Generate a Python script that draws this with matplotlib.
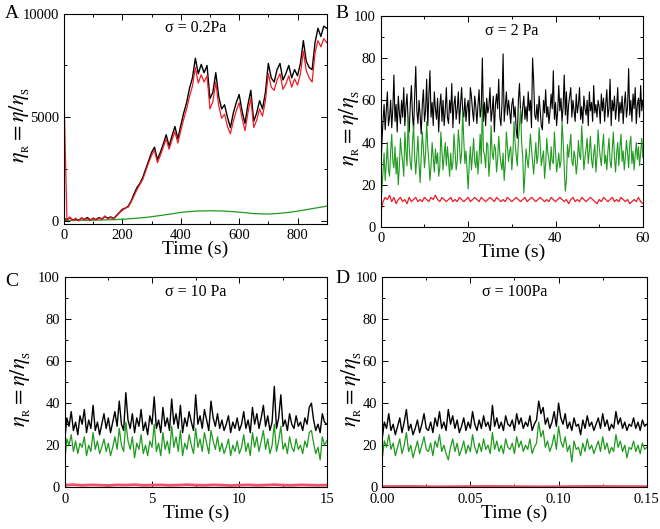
import numpy as np
import matplotlib
matplotlib.use("Agg")
import matplotlib.pyplot as plt
from matplotlib.ticker import MultipleLocator, FormatStrFormatter

plt.rcParams['font.family'] = ['Liberation Serif', 'DejaVu Serif']
plt.rcParams['mathtext.fontset'] = 'stix'

# ---- panel A: sigma = 0.2 Pa, sampled every 10 s (green every 25 s)
black_a = [100, 50, 150, 30, 80, 20, 120, 60, 150, 40, 100, 60, 150, 80, 200, 120, 180, 100,
           250, 400, 550, 600, 700, 950, 1300, 1600, 1800, 2100, 2500, 2900, 3300, 3550, 2950,
           3300, 3700, 4150, 3600, 4100, 4550, 3950, 4600, 5200, 5700, 6400, 6900, 7850, 7100,
           7550, 7150, 7500, 5900, 6200, 7150, 6000, 5400, 5600, 5000, 4500, 5200, 5700, 6100,
           5300, 4700, 5600, 6300, 4800, 5200, 5800, 5400, 6200, 7600, 6900, 6700, 7300, 7600,
           6800, 7100, 7500, 6900, 7300, 7000, 7600, 8700, 7700, 7400, 7300, 8600, 9300, 8900,
           9400, 9300]
red_a = [6000, 30, 180, 0, 120, -20, 150, 40, 100, 10, 140, 30, 120, 60, 230, 90, 150, 80,
         220, 380, 500, 620, 650, 900, 1200, 1500, 1750, 2000, 2400, 2800, 3150, 3400, 2800,
         3150, 3550, 3950, 3450, 3900, 4300, 3750, 4350, 4900, 5400, 6000, 6500, 7400, 6650,
         7050, 6700, 7000, 5400, 5750, 6700, 5550, 4950, 5150, 4550, 4200, 4800, 5300, 5700,
         4950, 4350, 5200, 5900, 4500, 4850, 5400, 5050, 5800, 7100, 6450, 6300, 6800, 7100,
         6350, 6600, 7000, 6450, 6850, 6550, 7100, 8200, 7250, 6900, 6700, 8100, 8700, 8400,
         8800, 8600]
green_a = [10, 15, 20, 20, 25, 30, 40, 50, 70, 90, 120, 150, 190, 240, 290, 340, 400, 430,
           460, 470, 480, 470, 460, 440, 410, 380, 340, 330, 320, 340, 370, 410, 460, 520,
           580, 640, 700]

# ---- panel B: sigma = 2 Pa, every 0.25 s (red every 0.5 s)
black_b = [25, 40, 50, 58, 46, 55, 64, 48, 52, 60, 47, 56, 72, 50, 58, 45, 62, 54, 49, 60,
           52, 66, 48, 57, 63, 50, 45, 58, 67, 53, 46, 62, 76, 55, 49, 60, 53, 44, 58, 65,
           50, 55, 70, 48, 62, 74, 52, 59, 48, 64, 56, 51, 61, 45, 57, 63, 50, 60, 48, 55,
           66, 52, 49, 60, 54, 68, 47, 58, 62, 51, 56, 64, 49, 58, 66, 55, 52, 61, 50, 57,
           60, 48, 66, 62, 55, 50, 62, 57, 49, 58, 65, 52, 56, 80, 50, 59, 48, 61, 54, 57,
           66, 50, 55, 62, 45, 58, 63, 56, 70, 52, 48, 59, 82, 50, 57, 64, 53, 60, 55, 49,
           58, 61, 52, 57, 46, 42, 60, 68, 55, 49, 57, 62, 51, 57, 50, 64, 55, 60, 47, 80,
           69, 53, 51, 58, 50, 62, 55, 48, 46, 60, 54, 65, 52, 57, 49, 55, 63, 56, 74, 51,
           59, 48, 55, 67, 55, 61, 50, 57, 72, 53, 64, 49, 58, 62, 66, 52, 60, 55, 50, 63,
           54, 58, 66, 51, 57, 49, 62, 56, 53, 60, 48, 64, 55, 59, 50, 67, 54, 58, 52, 60,
           57, 49, 63, 55, 61, 50, 58, 65, 52, 56, 70, 48, 60, 55, 62, 51, 57, 66, 50, 59,
           54, 62, 49, 58, 64, 52, 57, 75, 53, 60, 50, 63, 56, 66, 49, 58, 61, 52, 67, 55, 60]
green_b = [10, 18, 26, 35, 22, 30, 40, 27, 24, 36, 44, 31, 28, 38, 25, 33, 20, 29, 42, 35,
           31, 24, 45, 36, 29, 52, 38, 30, 27, 40, 48, 33, 25, 34, 43, 30, 21, 33, 45, 37,
           28, 35, 50, 38, 31, 22, 29, 40, 33, 26, 37, 30, 35, 24, 28, 45, 36, 27, 34, 40,
           29, 38, 32, 24, 35, 27, 30, 44, 36, 27, 31, 46, 39, 30, 35, 55, 41, 30, 36, 27,
           18, 30, 38, 27, 34, 42, 31, 28, 36, 25, 33, 44, 30, 58, 36, 34, 28, 40, 39, 24,
           31, 48, 35, 32, 39, 37, 26, 32, 43, 35, 30, 27, 35, 22, 30, 45, 38, 31, 36, 38,
           27, 35, 50, 40, 34, 29, 41, 48, 56, 40, 33, 16, 25, 37, 32, 28, 35, 44, 37, 31,
           25, 33, 40, 30, 34, 47, 39, 29, 33, 36, 23, 30, 42, 35, 32, 27, 38, 31, 30, 45,
           36, 26, 30, 35, 28, 31, 50, 41, 28, 17, 22, 39, 33, 38, 44, 31, 29, 36, 33, 25,
           30, 41, 34, 32, 48, 38, 27, 33, 37, 42, 30, 36, 43, 32, 28, 35, 39, 26, 33, 46,
           38, 33, 29, 38, 44, 30, 34, 27, 36, 42, 31, 28, 37, 45, 33, 26, 35, 40, 29, 38,
           44, 31, 36, 27, 33, 41, 35, 28, 39, 43, 30, 36, 27, 34, 40, 32, 38, 29, 35, 42, 33]
red_b = [7, 12, 14, 13, 15, 12, 14, 11, 13, 14, 12, 13, 11, 14, 12, 13, 14, 12, 13, 12,
         14, 13, 12, 14, 13, 15, 13, 12, 14, 13, 12, 13, 14, 12, 13, 12, 14, 13, 12, 13,
         14, 12, 13, 14, 13, 12, 14, 13, 12, 13, 14, 13, 12, 14, 13, 12, 13, 12, 14, 13,
         12, 13, 14, 13, 12, 13, 14, 12, 13, 14, 13, 12, 13, 14, 13, 12, 13, 12, 14, 13,
         12, 13, 14, 13, 12, 13, 11, 13, 14, 12, 13, 12, 14, 13, 12, 13, 14, 13, 12, 11,
         13, 12, 14, 13, 12, 13, 14, 12, 13, 12, 14, 13, 12, 13, 11, 12, 13, 12, 14, 12, 11]

# ---- panel C: sigma = 10 Pa, every 0.125 s
black_c = [22, 33, 29, 36, 27, 31, 25, 34, 30, 37, 26, 32, 28, 39, 27, 31, 25, 30, 35, 28,
           33, 26, 31, 36, 29, 41, 30, 27, 45, 32, 28, 35, 26, 33, 29, 37, 27, 31, 25, 34,
           30, 43, 28, 32, 26, 38, 29, 33, 27, 42, 30, 35, 28, 39, 26, 33, 29, 36, 31, 27,
           44, 30, 34, 28, 37, 32, 27, 41, 33, 29, 35, 28, 32, 27, 30, 34, 26, 31, 28, 33,
           27, 30, 36, 28, 32, 26, 38, 30, 35, 28, 33, 39, 29, 34, 27, 31, 48, 28, 33, 44,
           29, 32, 27, 35, 30, 28, 34, 29, 31, 27, 33, 30, 38, 40, 32, 27, 30, 26, 35, 31, 30]
green_c = [12, 23, 20, 25, 17, 22, 16, 21, 19, 24, 15, 20, 17, 26, 18, 22, 16, 19, 23, 17,
           21, 15, 19, 24, 18, 28, 20, 17, 31, 22, 18, 24, 14, 21, 18, 25, 16, 20, 15, 22,
           19, 30, 17, 21, 15, 26, 18, 22, 16, 29, 19, 24, 17, 27, 15, 21, 18, 25, 20, 16,
           28, 19, 23, 17, 26, 21, 16, 27, 22, 18, 24, 17, 21, 16, 19, 23, 15, 20, 17, 22,
           16, 19, 25, 17, 21, 15, 26, 19, 24, 17, 22, 27, 18, 23, 16, 20, 30, 17, 22, 29,
           18, 21, 16, 24, 19, 17, 23, 18, 20, 16, 22, 19, 26, 27, 21, 16, 19, 13, 24, 20, 22]
red_c = [1.0, 1.2, 0.9, 1.1, 1.0, 0.8, 1.1, 1.0, 1.2, 0.9, 1.0, 1.1, 0.9, 1.0, 1.2, 1.0,
         0.9, 1.1, 1.0, 0.8, 1.0, 1.1, 0.9, 1.0, 1.2, 1.0, 0.9, 1.1, 1.0, 0.9, 1.0]

# ---- panel D: sigma = 100 Pa, every 0.00125 s
black_d = [23, 31, 28, 35, 27, 30, 25, 29, 33, 26, 31, 37, 27, 30, 25, 28, 32, 26, 30, 35,
           28, 27, 31, 26, 33, 29, 36, 28, 31, 27, 37, 30, 34, 28, 32, 26, 29, 33, 27, 31,
           28, 36, 30, 27, 32, 28, 34, 29, 31, 27, 39, 29, 33, 28, 31, 27, 34, 30, 29, 32,
           27, 35, 30, 33, 28, 31, 29, 34, 27, 30, 32, 41, 35, 38, 30, 33, 28, 31, 36, 29,
           40, 33, 30, 35, 28, 31, 27, 33, 29, 30, 25, 32, 28, 34, 29, 31, 27, 30, 33, 28,
           35, 29, 32, 27, 30, 28, 36, 30, 33, 28, 31, 27, 30, 29, 33, 28, 31, 27, 32, 29, 30]
green_d = [13, 22, 19, 25, 18, 21, 15, 19, 23, 16, 20, 26, 17, 20, 14, 18, 22, 16, 20, 24,
           18, 17, 21, 15, 22, 19, 25, 17, 20, 16, 13, 19, 23, 17, 21, 15, 18, 22, 16, 20,
           17, 25, 19, 16, 21, 17, 23, 18, 20, 16, 26, 18, 22, 17, 20, 16, 23, 19, 18, 21,
           16, 24, 19, 22, 17, 20, 18, 23, 16, 19, 21, 31, 24, 27, 19, 22, 17, 20, 25, 18,
           29, 22, 19, 24, 17, 20, 12, 22, 18, 19, 15, 21, 17, 23, 18, 20, 16, 19, 22, 17,
           24, 18, 21, 16, 19, 17, 25, 19, 22, 17, 20, 14, 19, 18, 22, 17, 20, 16, 21, 18, 19]
red_d = [0.3, 0.4, 0.2, 0.3, 0.4, 0.3, 0.2, 0.3, 0.4, 0.3, 0.3]

BLACK = '#000000'
RED = '#ee1c25'
PINK = '#f0506a'
GREEN = '#1e9a1e'


def tgrid(vals, tmax):
    return np.linspace(0, tmax, len(vals))


fig = plt.figure(figsize=(6.6, 5.29), dpi=100)
axA = fig.add_axes([0.097, 0.577, 0.398, 0.397])
axB = fig.add_axes([0.577, 0.571, 0.397, 0.399])
axC = fig.add_axes([0.098, 0.079, 0.397, 0.397])
axD = fig.add_axes([0.579, 0.079, 0.401, 0.397])

axA.plot(tgrid(green_a, 900), green_a, color=GREEN, lw=0.9)
axA.plot(tgrid(black_a, 900), black_a, color=BLACK, lw=1.0)
axA.plot(tgrid(red_a, 900), red_a, color=RED, lw=0.9)

axB.plot(tgrid(black_b, 60), black_b, color=BLACK, lw=0.8)
axB.plot(tgrid(green_b, 60), green_b, color=GREEN, lw=0.8)
axB.plot(tgrid(red_b, 60), red_b, color=RED, lw=0.9)

axC.plot(tgrid(black_c, 15), black_c, color=BLACK, lw=1.0)
axC.plot(tgrid(green_c, 15), green_c, color=GREEN, lw=0.9)
axC.plot(tgrid(red_c, 15), red_c, color=PINK, lw=2.0)

axD.plot(tgrid(black_d, 0.15), black_d, color=BLACK, lw=1.0)
axD.plot(tgrid(green_d, 0.15), green_d, color=GREEN, lw=0.9)
axD.plot(tgrid(red_d, 0.15), red_d, color=PINK, lw=2.0)

ylab = r'$\eta_{_{\rm R}}=\eta/\eta_{_{\rm S}}$'
setup = [
    (axA, 'σ = 0.2Pa', 900, 200, 100, (-150, 10000), 5000, 2500, None, -0.12),
    (axB, 'σ = 2 Pa', 60, 20, 10, (0, 100), 20, 10, None, -0.072),
    (axC, 'σ = 10 Pa', 15, 5, 2.5, (0, 100), 20, 10, None, -0.12),
    (axD, 'σ = 100Pa', 0.15, 0.05, 0.025, (0, 100), 20, 10, '%.2f', -0.07),
]
for ax, title, xmax, xmaj, xmin, ylim, ymaj, ymin, fmt, labx in setup:
    ax.set_xlim(0, xmax)
    ax.set_ylim(*ylim)
    ax.xaxis.set_major_locator(MultipleLocator(xmaj))
    ax.xaxis.set_minor_locator(MultipleLocator(xmin))
    ax.yaxis.set_major_locator(MultipleLocator(ymaj))
    ax.yaxis.set_minor_locator(MultipleLocator(ymin))
    if fmt:
        ax.xaxis.set_major_formatter(FormatStrFormatter(fmt))
    ax.tick_params(which='both', direction='in', top=True, right=True, labelsize=10.5, width=0.7)
    ax.tick_params(axis='x', pad=4)
    ax.tick_params(which='major', length=4)
    ax.tick_params(which='minor', length=2.5)
    for s in ax.spines.values():
        s.set_linewidth(0.8)
    ax.set_xlabel('Time (s)', fontsize=14, labelpad=-1)
    ax.set_ylabel(ylab, fontsize=16)
    ax.yaxis.set_label_coords(labx, 0.47)
    ax.text(0.5, 0.93, title, transform=ax.transAxes, ha='center', va='center', fontsize=11.5)

fig.text(0.008, 0.975, 'A', fontsize=14, va='center')
fig.text(0.508, 0.975, 'B', fontsize=14, va='center')
fig.text(0.008, 0.468, 'C', fontsize=14, va='center')
fig.text(0.508, 0.473, 'D', fontsize=14, va='center')

fig.savefig('out.png', dpi=100)
